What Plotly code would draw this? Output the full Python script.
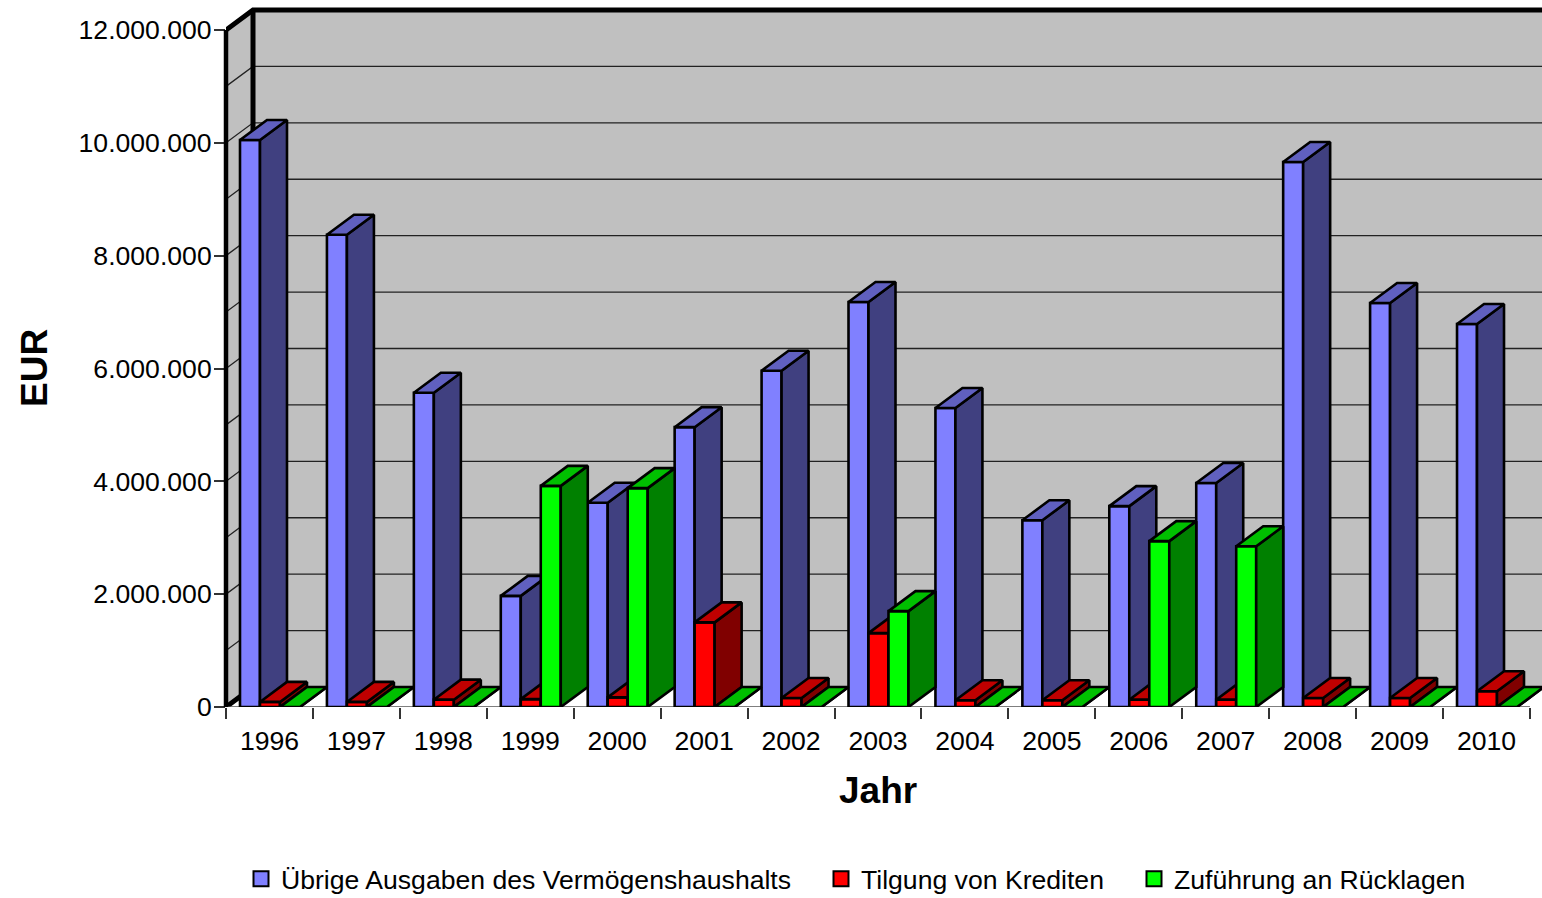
import plotly.graph_objects as go

years = list(range(1996, 2011))
uebrige = [10050000, 8370000, 5570000, 1970000, 3620000, 4960000, 5960000, 7180000,
           5300000, 3310000, 3560000, 3970000, 9660000, 7160000, 6790000]
tilgung = [90000, 90000, 130000, 140000, 170000, 1500000, 160000, 1310000,
           120000, 120000, 130000, 130000, 160000, 160000, 280000]
zufuehrung = [0, 0, 0, 3920000, 3880000, 0, 0, 1700000,
              0, 0, 2940000, 2850000, 0, 0, 0]
series_names = ["Übrige Ausgaben des Vermögenshaushalts", "Tilgung von Krediten", "Zuführung an Rücklagen"]
y_ticks = list(range(0, 12000001, 2000000))
grid_vals = list(range(0, 12000001, 1000000))

W, H = 1542, 898
L, B = 226, 191
PX_PER_YEAR = 86.93
PX_PER_UNIT = 677 / 12000000
FONT = "Liberation Sans, Arial, sans-serif"
FS = 26.6
DX = 27 / PX_PER_YEAR
DY = 20 / PX_PER_UNIT
X0 = years[0] - 0.5
X_END = years[-1] + 0.5
XMAX = X0 + (W - L) / PX_PER_YEAR
YMAX = (H - B) / PX_PER_UNIT
BAR_W = 0.23
OUTLINE = 2.6


def px(x):
    return (x - L) / (W - L)


def py(y):
    return ((H - B) - y) / (H - B)


fig = go.Figure()


def line_trace(xs, ys, color, width):
    fig.add_trace(go.Scatter(x=xs, y=ys, mode="lines", line=dict(color=color, width=width),
                             hoverinfo="skip", showlegend=False, cliponaxis=False, yaxis="y"))


def fill_trace(xs, ys, color, yaxis):
    fig.add_trace(go.Scatter(x=xs, y=ys, mode="lines", fill="toself", fillcolor=color,
                             line=dict(color="black", width=OUTLINE),
                             hoverinfo="skip", showlegend=False, cliponaxis=False, yaxis=yaxis))


# walls
top = max(grid_vals)
wall_x = [X0 + DX, XMAX, XMAX, X0 + DX, X0 + DX]
wall_y = [DY, DY, top + DY, top + DY, DY]
fig.add_trace(go.Scatter(x=wall_x, y=wall_y, mode="lines", fill="toself", fillcolor="#C0C0C0",
                         line=dict(width=0, color="#C0C0C0"), hoverinfo="skip", showlegend=False, yaxis="y"))
fig.add_trace(go.Scatter(x=[X0, X0 + DX, X0 + DX, X0, X0], y=[0, DY, top + DY, top, 0], mode="lines",
                         fill="toself", fillcolor="#C0C0C0", line=dict(width=0, color="#C0C0C0"),
                         hoverinfo="skip", showlegend=False, yaxis="y"))
# grid on walls
gx, gy = [], []
for g in grid_vals[1:-1]:
    gx += [X0, X0 + DX, XMAX, None]
    gy += [g, g + DY, g + DY, None]
line_trace(gx, gy, "#222222", 1.3)
# heavy frame
line_trace([X0 + DX, XMAX], [DY, DY], "#111111", 2)
line_trace([X0, X0 + DX, X0 + DX, X0 + DX], [0, DY, top + DY, DY], "black", 5)
line_trace([X0, X0 + DX, XMAX], [top, top + DY, top + DY], "black", 5)
line_trace([X0, X_END], [0, 0], "#555555", 1.5)

# bars: one overlaid layer per series so that later series sit in front of earlier side faces
colors = [("#8080FF", "#404080", "#6060C0"), ("#FF0000", "#800000", "#C00000"), ("#00FF00", "#008000", "#00C000")]
offsets = [-0.224, 0.006, 0.236]
values = [uebrige, tilgung, zufuehrung]
for k, (vals, (front, side, lid), off) in enumerate(zip(values, colors, offsets)):
    ya = "y%d" % (k + 2)
    fig.add_trace(go.Bar(x=[yr + off for yr in years], y=vals, width=BAR_W, yaxis=ya,
                         marker=dict(color=front, line=dict(color="black", width=OUTLINE)),
                         showlegend=False, name=series_names[k]))
    sx, sy, tx, ty = [], [], [], []
    for yr, v in zip(years, vals):
        a = yr + off - BAR_W / 2
        b = yr + off + BAR_W / 2
        sx += [b, b + DX, b + DX, b, b, None]
        sy += [0, DY, v + DY, v, 0, None]
        tx += [a, a + DX, b + DX, b, a, None]
        ty += [v, v + DY, v + DY, v, v, None]
    fill_trace(sx, sy, side, ya)
    fill_trace(tx, ty, lid, ya)

# legend entries, each placed by its own legend box
legend_left = [241, 821, 1134]
legends = {}
for k, (name, (front, _, _)) in enumerate(zip(series_names, colors)):
    key = "legend" if k == 0 else "legend%d" % (k + 1)
    fig.add_trace(go.Scatter(x=[None], y=[None], mode="markers", name=name, legend=key, yaxis="y",
                             marker=dict(symbol="square", size=15, color=front, line=dict(color="black", width=2))))
    legends[key] = dict(x=px(legend_left[k]), y=py(879), xanchor="left", yanchor="middle",
                        orientation="h", bgcolor="rgba(0,0,0,0)", font=dict(family=FONT, size=FS, color="black"),
                        borderwidth=0)

overlay = dict(overlaying="y", matches="y", visible=False, range=[0, YMAX], fixedrange=True)
fig.update_layout(
    width=W, height=H, autosize=False,
    margin=dict(l=L, r=0, t=0, b=B, pad=0, autoexpand=False),
    paper_bgcolor="white", plot_bgcolor="white",
    separators=",.",
    font=dict(family=FONT, size=FS, color="black"),
    xaxis=dict(range=[X0, XMAX], showgrid=False, zeroline=False, showline=False, fixedrange=True,
               tickmode="array", tickvals=years, ticktext=[str(y) for y in years],
               ticks="outside", ticklen=11, tickcolor="rgba(0,0,0,0)", ticklabelstandoff=-1,
               tickfont=dict(family=FONT, size=FS, color="black"),
               minor=dict(tickmode="array", tickvals=[X0 + i for i in range(len(years) + 1)],
                          ticks="outside", ticklen=11, tickwidth=1.5, tickcolor="#333333")),
    yaxis=dict(range=[0, YMAX], showgrid=False, zeroline=False, showline=False, fixedrange=True,
               tickmode="array", tickvals=y_ticks, tickformat=",d",
               ticks="outside", ticklen=11, tickwidth=1.5, tickcolor="#333333", ticklabelstandoff=-3,
               tickfont=dict(family=FONT, size=FS, color="black")),
    yaxis2=overlay, yaxis3=overlay, yaxis4=overlay,
    shapes=[dict(type="line", xref="paper", yref="y", x0=0, x1=0, y0=0, y1=top, layer="above",
                 line=dict(color="black", width=4.5))],
    annotations=[
        dict(text="<b>Jahr</b>", x=px(878), y=py(790), xref="paper", yref="paper", showarrow=False,
             xanchor="center", yanchor="middle", font=dict(family=FONT, size=37, color="black")),
        dict(text="<b>EUR</b>", x=px(34), y=py(368), xref="paper", yref="paper", showarrow=False, textangle=-90,
             xanchor="center", yanchor="middle", font=dict(family=FONT, size=37, color="black")),
    ],
    **legends,
)

fig.write_html("out.html", config=dict(displayModeBar=False),
               post_script="document.body.style.margin='0';document.body.style.overflow='hidden';")
